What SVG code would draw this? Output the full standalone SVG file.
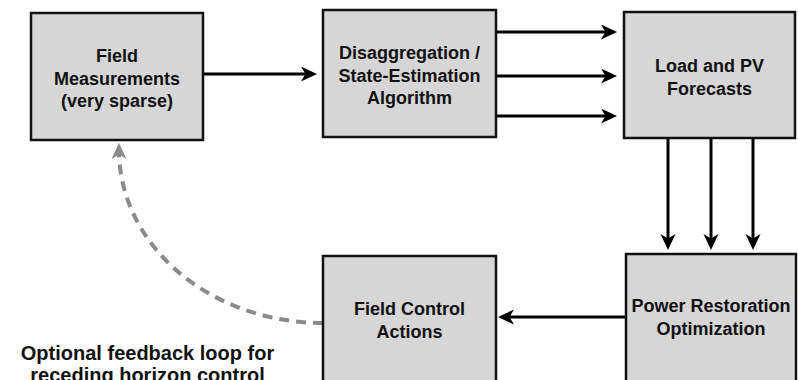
<svg xmlns="http://www.w3.org/2000/svg" width="798" height="380" viewBox="0 0 798 380">
  <style>
    .box { fill: #d6d6d6; stroke: #111; stroke-width: 2.5; }
    .lbl { font-family: "Liberation Sans", Arial, Helvetica, sans-serif; font-weight: bold; font-size: 18px; fill: #111; text-anchor: middle; }
    .note { font-family: "Liberation Sans", Arial, Helvetica, sans-serif; font-weight: bold; font-size: 20px; fill: #111; text-anchor: middle; }
    .flow { fill: none; stroke: #000; stroke-width: 3; marker-end: url(#head); }
    .loop { fill: none; stroke: #8a8a8a; stroke-width: 4; stroke-dasharray: 10 7; marker-end: url(#headGray); }
  </style>
  <defs>
    <marker id="head" markerUnits="userSpaceOnUse" markerWidth="17" markerHeight="16" refX="10" refY="7.5" orient="auto">
      <path d="M0,0 L16,7.5 L0,15 L4.5,7.5 Z" fill="#000"/>
    </marker>
    <marker id="headGray" markerUnits="userSpaceOnUse" markerWidth="17" markerHeight="16" refX="9" refY="7.5" orient="auto">
      <path d="M0,0 L16,7.5 L0,15 L4.5,7.5 Z" fill="#8a8a8a" stroke="none"/>
    </marker>
  </defs>

  <rect width="798" height="380" fill="#fff"/>

  <g id="connectors">
    <line class="flow" x1="203" y1="74" x2="311" y2="74"/>
    <line class="flow" x1="496" y1="32" x2="611" y2="32"/>
    <line class="flow" x1="496" y1="76" x2="611" y2="76"/>
    <line class="flow" x1="496" y1="116" x2="611" y2="116"/>
    <line class="flow" x1="668" y1="138" x2="668" y2="244"/>
    <line class="flow" x1="711" y1="138" x2="711" y2="244"/>
    <line class="flow" x1="753" y1="138" x2="753" y2="244"/>
    <line class="flow" x1="626" y1="317" x2="504" y2="317"/>
    <path class="loop" d="M323,323 A204,173 0 0 1 119,150"/>
  </g>

  <g id="field-measurements">
    <rect class="box" x="31" y="13" width="172" height="127"/>
    <text class="lbl" x="117" y="62">Field</text>
    <text class="lbl" x="117" y="85">Measurements</text>
    <text class="lbl" x="117" y="107">(very sparse)</text>
  </g>

  <g id="state-estimation">
    <rect class="box" x="323" y="10" width="173" height="127"/>
    <text class="lbl" x="409.5" y="59">Disaggregation /</text>
    <text class="lbl" x="409.5" y="82">State-Estimation</text>
    <text class="lbl" x="409.5" y="104">Algorithm</text>
  </g>

  <g id="forecasts">
    <rect class="box" x="624" y="12" width="171" height="126"/>
    <text class="lbl" x="709.5" y="72">Load and PV</text>
    <text class="lbl" x="709.5" y="95">Forecasts</text>
  </g>

  <g id="field-control">
    <rect class="box" x="323" y="256" width="173" height="130"/>
    <text class="lbl" x="409.5" y="315">Field Control</text>
    <text class="lbl" x="409.5" y="338">Actions</text>
  </g>

  <g id="restoration">
    <rect class="box" x="626" y="254" width="170" height="132"/>
    <text class="lbl" x="711" y="312">Power Restoration</text>
    <text class="lbl" x="711" y="335">Optimization</text>
  </g>

  <g id="loop-note">
    <text class="note" x="147.5" y="360">Optional feedback loop for</text>
    <text class="note" x="147.5" y="382">receding horizon control</text>
  </g>
</svg>
